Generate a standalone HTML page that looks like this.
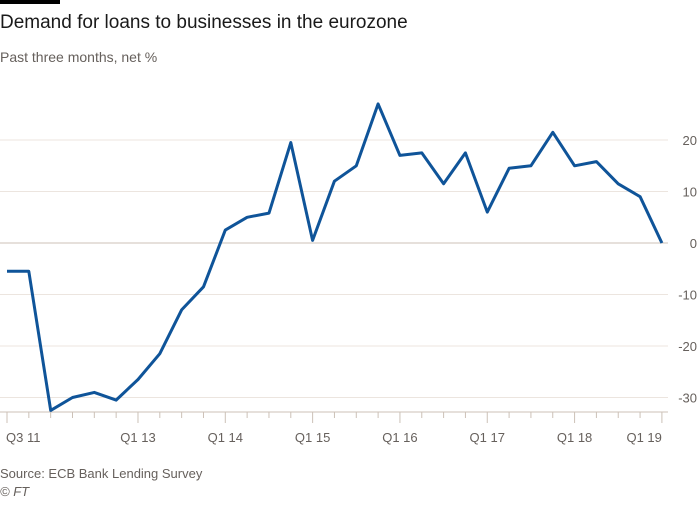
<!DOCTYPE html>
<html><head><meta charset="utf-8"><style>
body{margin:0;background:#fff;font-family:"Liberation Sans",sans-serif;}
</style></head><body>
<svg width="700" height="500" viewBox="0 0 700 500">
<rect x="0" y="0" width="700" height="500" fill="#fff"/>
<rect x="0" y="0" width="60" height="4" fill="#000"/>
<text x="0" y="28" font-size="19" fill="#1a1a1a">Demand for loans to businesses in the eurozone</text>
<text x="0" y="62" font-size="14" fill="#66605c">Past three months, net %</text>
<g id="grid"></g><g id="xaxis"></g>
<path id="line" fill="none" stroke="#0f5499" stroke-width="3" stroke-linejoin="round"/>
<text x="0" y="478" font-size="13" fill="#66605c">Source: ECB Bank Lending Survey</text>
<text x="0" y="496" font-size="13" font-style="italic" fill="#66605c">© FT</text>
</svg>
<script>
const values=[-5.5,-5.5,-32.5,-30,-29,-30.5,-26.5,-21.5,-13,-8.5,2.5,5,5.8,19.5,0.5,12,15,27,17,17.5,11.5,17.5,6,14.5,15,21.5,15,15.8,11.5,9,0];
const yTicks=[20,10,0,-10,-20,-30];
const xLabels=["Q3 11","Q1 13","Q1 14","Q1 15","Q1 16","Q1 17","Q1 18","Q1 19"];
const xLabelIdx=[0,6,10,14,18,22,26,30];
const NS="http://www.w3.org/2000/svg";
const x=i=>7+i*21.83;
const y=v=>243-v*5.15;
const grid=document.getElementById('grid');
yTicks.forEach(t=>{
 const l=document.createElementNS(NS,'line');
 l.setAttribute('x1',0);l.setAttribute('x2',668);l.setAttribute('y1',y(t));l.setAttribute('y2',y(t));
 l.setAttribute('stroke',t===0?'#ccc1b7':'#ece5df');l.setAttribute('stroke-width',1);
 
 
 grid.appendChild(l);
 const tx=document.createElementNS(NS,'text');
 tx.setAttribute('x',697);tx.setAttribute('y',y(t)+5);tx.setAttribute('text-anchor','end');
 tx.setAttribute('font-size','13');tx.setAttribute('fill','#66605c');tx.textContent=t;
 
 
 grid.appendChild(tx);
});
const xa=document.getElementById('xaxis');
const base=document.createElementNS(NS,'line');
base.setAttribute('x1',0);base.setAttribute('x2',668);base.setAttribute('y1',412);base.setAttribute('y2',412);
base.setAttribute('stroke','#ccc1b7');


xa.appendChild(base);
values.forEach((v,i)=>{
 const t=document.createElementNS(NS,'line');
 const major=xLabelIdx.includes(i);
 t.setAttribute('x1',x(i));t.setAttribute('x2',x(i));t.setAttribute('y1',412);t.setAttribute('y2',major?423:418);
 t.setAttribute('stroke','#ccc1b7');
 
 
 xa.appendChild(t);
});
xLabels.forEach((s,k)=>{
 const tx=document.createElementNS(NS,'text');
 const i=xLabelIdx[k];
 tx.setAttribute('x',i===0?x(i)-1:x(i));tx.setAttribute('y',442);
 tx.setAttribute('text-anchor',i===0?'start':(i===30?'end':'middle'));
 tx.setAttribute('font-size','13');tx.setAttribute('fill','#66605c');tx.textContent=s;
 
 
 xa.appendChild(tx);
});
document.getElementById('line').setAttribute('d',values.map((v,i)=>(i?'L':'M')+x(i).toFixed(1)+','+y(v).toFixed(1)).join(''));
</script>
</body></html>
